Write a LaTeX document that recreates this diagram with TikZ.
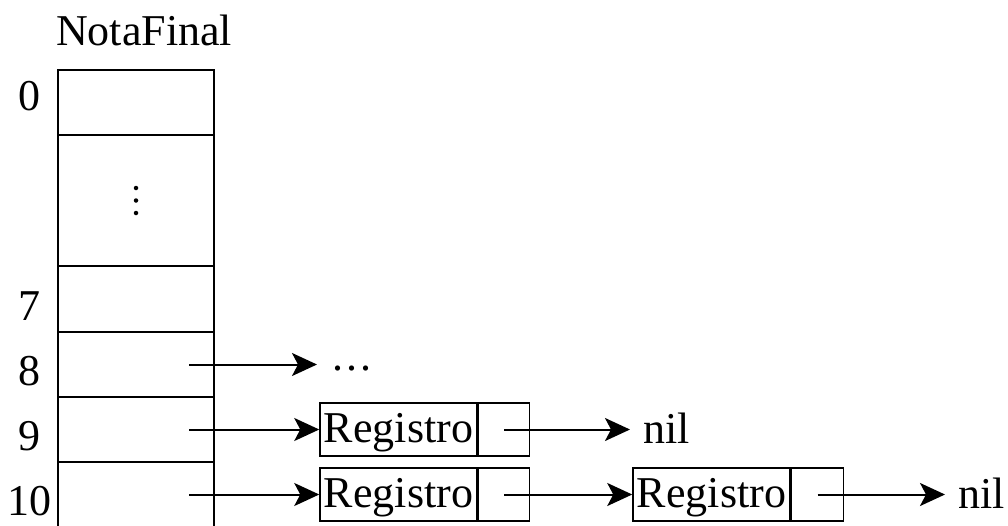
\documentclass[tikz,border=0pt]{standalone}
\usepackage{fontspec}
\setmainfont{Liberation Serif}
\usetikzlibrary{arrows.meta}
\tikzset{
  txt/.style={font=\fontsize{44}{52}\selectfont, inner sep=0pt},
  cell/.style={draw, line width=2pt, rectangle, minimum width=156pt, inner sep=0pt},
  regbox/.style={draw, line width=1.5pt, rectangle, minimum width=157pt, minimum height=53pt,
    inner xsep=0pt, inner ysep=0pt, text height=30pt, text depth=5pt,
    font=\fontsize{44}{52}\selectfont},
  ptrbox/.style={draw, line width=1.5pt, rectangle, minimum width=51pt, minimum height=53pt, inner sep=0pt},
  ptr/.style={line width=2pt, -{Stealth[length=25pt,width=23pt,inset=6pt]}},
  vdot/.style={circle, fill, inner sep=0pt, minimum size=4.5pt}
}
\begin{document}
\begin{tikzpicture}[x=1pt,y=-1pt]
\useasboundingbox (0,0) rectangle (1008,525);
% title
\node[txt, anchor=base] (title) at (144,45) {NotaFinal};
% array cells
\node[cell, minimum height=65pt] (c0) at (136,102.5) {};
\node[cell, minimum height=131pt] (c1) at (136,200.5) {};
\node[cell, minimum height=66pt] (c7) at (136,299) {};
\node[cell, minimum height=65pt] (c8) at (136,364.5) {};
\node[cell, minimum height=65pt] (c9) at (136,429.5) {};
\draw[line width=2pt] (58,462) -- (58,526) (214,462) -- (214,526);
\coordinate (c10) at (136,494.5);
% vertical dots
\node[vdot] (d1) at (136,188) {};
\node[vdot] (d2) at (136,200.5) {};
\node[vdot] (d3) at (136,213) {};
% index labels
\node[txt, anchor=base] (l0) at (29,110) {0};
\node[txt, anchor=base] (l7) at (29,320) {7};
\node[txt, anchor=base] (l8) at (29,385) {8};
\node[txt, anchor=base] (l9) at (29,450) {9};
\node[txt, anchor=base] (l10) at (29,515) {10};
% row 8
\node[txt, anchor=base west] (ell) at (332,370) {.\kern3pt.\kern3pt.};
\coordinate (e8) at (317,364.5);
\draw[ptr] ([xshift=53pt]c8.center) -- (e8);
% row 9
\node[regbox] (r9a) at (398.5,429.5) {Registro};
\node[ptrbox, anchor=west] (r9b) at (r9a.east) {};
\node[txt, anchor=base west] (nil9) at (643,443) {nil};
\coordinate (e9) at (630,429.5);
\draw[ptr] ([xshift=53pt]c9.center) -- (r9a.west);
\draw[ptr] (r9b.center) -- (e9);
% row 10
\node[regbox] (r10a) at (398.5,494.5) {Registro};
\node[ptrbox, anchor=west] (r10b) at (r10a.east) {};
\node[regbox] (r10c) at (711.5,494.5) {Registro};
\node[ptrbox, anchor=west, minimum width=52pt] (r10d) at (r10c.east) {};
\node[txt, anchor=base west] (nil10) at (958,508) {nil};
\coordinate (e10) at (945,494.5);
\draw[ptr] ([xshift=53pt]c10) -- (r10a.west);
\draw[ptr] (r10b.center) -- (r10c.west);
\draw[ptr] (r10d.center) -- (e10);
\end{tikzpicture}
\end{document}
